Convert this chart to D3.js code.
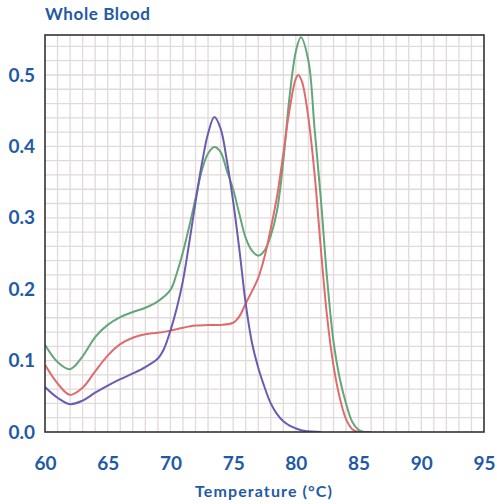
<!DOCTYPE html>
<html>
<head>
<meta charset="utf-8">
<script src="https://cdn.jsdelivr.net/npm/d3@7"></script>
<style>
  html, body { margin: 0; padding: 0; background: #fff; }
  svg { display: block; font-family: Lato, 'Open Sans', sans-serif; }
</style>
</head>
<body>
<div id="chart"></div>
<script>
const title = 'Whole Blood';
const xLabel = 'Temperature (°C)';
const xTicks = [60, 65, 70, 75, 80, 85, 90, 95];
const yTicks = [0, 0.1, 0.2, 0.3, 0.4, 0.5];

// melt curves
const greenTemp = [60, 61, 62, 63, 64, 65, 66, 67, 68, 69, 70, 70.5, 71, 71.5, 72, 72.5, 73, 73.5, 74, 74.5, 75, 75.5, 76, 76.5, 77, 77.5, 78, 78.5, 79, 79.5, 80, 80.4, 81, 81.5, 82, 82.5, 83, 83.5, 84, 84.5, 85, 85.5, 86];
const greenVals = [0.122, 0.098, 0.088, 0.106, 0.133, 0.150, 0.161, 0.168, 0.174, 0.183, 0.199, 0.222, 0.252, 0.288, 0.327, 0.366, 0.390, 0.399, 0.392, 0.366, 0.340, 0.305, 0.272, 0.254, 0.247, 0.254, 0.275, 0.310, 0.380, 0.470, 0.533, 0.553, 0.520, 0.423, 0.325, 0.213, 0.127, 0.075, 0.040, 0.014, 0.003, 0, 0];

const redTemp = [60, 61, 62, 63, 64, 65, 66, 67, 68, 69, 70, 71, 72, 73, 74, 75, 75.5, 76, 76.5, 77, 77.5, 78, 78.5, 79, 79.5, 80, 80.2, 80.5, 81, 81.5, 82, 82.5, 83, 83.5, 84, 84.5, 85, 85.5, 86];
const redVals = [0.094, 0.068, 0.052, 0.062, 0.085, 0.107, 0.123, 0.132, 0.137, 0.139, 0.142, 0.146, 0.149, 0.150, 0.150, 0.153, 0.162, 0.180, 0.197, 0.216, 0.245, 0.285, 0.330, 0.390, 0.452, 0.495, 0.500, 0.490, 0.440, 0.360, 0.255, 0.160, 0.093, 0.048, 0.018, 0.004, 0, 0, 0];

const purpleTemp = [60, 61, 62, 63, 64, 65, 66, 67, 68, 69, 69.5, 70, 70.5, 71, 71.5, 72, 72.5, 73, 73.5, 74, 74.5, 75, 75.5, 76, 76.5, 77, 77.5, 78, 78.5, 79, 79.5, 80, 80.5, 81, 82];
const purpleVals = [0.063, 0.048, 0.039, 0.044, 0.055, 0.065, 0.074, 0.082, 0.091, 0.103, 0.117, 0.142, 0.173, 0.212, 0.265, 0.322, 0.375, 0.418, 0.441, 0.425, 0.380, 0.323, 0.255, 0.180, 0.125, 0.090, 0.063, 0.040, 0.025, 0.015, 0.009, 0.005, 0.002, 0.001, 0];

const series = [
  { name: 'green', color: '#64a679', temps: greenTemp, values: greenVals },
  { name: 'red', color: '#e06b6d', temps: redTemp, values: redVals },
  { name: 'purple', color: '#6a5cae', temps: purpleTemp, values: purpleVals },
];

const width = 497;
const height = 504;
const margin = { top: 35, right: 13, bottom: 72, left: 45 };
const textColor = '#1f5aa6';

const x = d3.scaleLinear().domain([60, 95]).range([margin.left, width - margin.right]);
const y = d3.scaleLinear().domain([0, 0.556]).range([height - margin.bottom, margin.top]);

const svg = d3.select('#chart').append('svg').attr('width', width).attr('height', height);

svg.append('clipPath').attr('id', 'plot-clip')
  .append('rect')
  .attr('x', x(60)).attr('y', y(0.556))
  .attr('width', x(95) - x(60)).attr('height', y(0) - y(0.556));

// grid: every degree and every 0.02
const grid = svg.append('g').attr('stroke', '#e2d9d9').attr('stroke-width', 1.3);
grid.selectAll('line.v')
  .data(d3.range(61, 95))
  .join('line')
  .attr('class', 'v')
  .attr('x1', (d) => x(d)).attr('x2', (d) => x(d))
  .attr('y1', y(0.556)).attr('y2', y(0));
grid.selectAll('line.h')
  .data(d3.range(1, 28).map((i) => i * 0.02))
  .join('line')
  .attr('class', 'h')
  .attr('x1', x(60)).attr('x2', x(95))
  .attr('y1', (d) => y(d)).attr('y2', (d) => y(d));

// curves
const line = d3.line()
  .x((d) => x(d[0]))
  .y((d) => y(d[1]))
  .curve(d3.curveCatmullRom.alpha(0.5));

svg.append('g')
  .attr('clip-path', 'url(#plot-clip)')
  .selectAll('path')
  .data(series)
  .join('path')
  .attr('fill', 'none')
  .attr('stroke', (d) => d.color)
  .attr('stroke-width', 2)
  .attr('stroke-linejoin', 'round')
  .attr('d', (d) => line(d.temps.map((t, i) => [t, d.values[i]])));

// frame
svg.append('rect')
  .attr('x', x(60)).attr('y', y(0.556))
  .attr('width', x(95) - x(60)).attr('height', y(0) - y(0.556))
  .attr('fill', 'none')
  .attr('stroke', '#333')
  .attr('stroke-width', 1.6);

// axes, no lines, just labels
const xAxis = svg.append('g')
  .attr('transform', `translate(0,${y(0)})`)
  .call(d3.axisBottom(x).tickValues(xTicks).tickSize(0).tickPadding(25).tickFormat(d3.format('d')));
const yAxis = svg.append('g')
  .attr('transform', `translate(${x(60)},0)`)
  .call(d3.axisLeft(y).tickValues(yTicks).tickSize(0).tickPadding(10).tickFormat(d3.format('.1f')));

[xAxis, yAxis].forEach((a) => {
  a.select('.domain').remove();
  a.selectAll('text')
    .attr('fill', textColor)
    .style('font-size', '19px')
    .style('font-weight', 'bold')
    .style('font-family', 'Lato, sans-serif');
});

svg.append('text')
  .attr('x', x(60))
  .attr('y', 20)
  .attr('fill', textColor)
  .style('font-size', '17px')
  .style('font-weight', 'bold')
  .style('letter-spacing', '0.6px')
  .text(title);

svg.append('text')
  .attr('x', 264)
  .attr('y', 497)
  .attr('text-anchor', 'middle')
  .attr('fill', textColor)
  .style('font-size', '16px')
  .style('font-weight', 'bold')
  .style('letter-spacing', '1.1px')
  .text(xLabel);
</script>
</body>
</html>
